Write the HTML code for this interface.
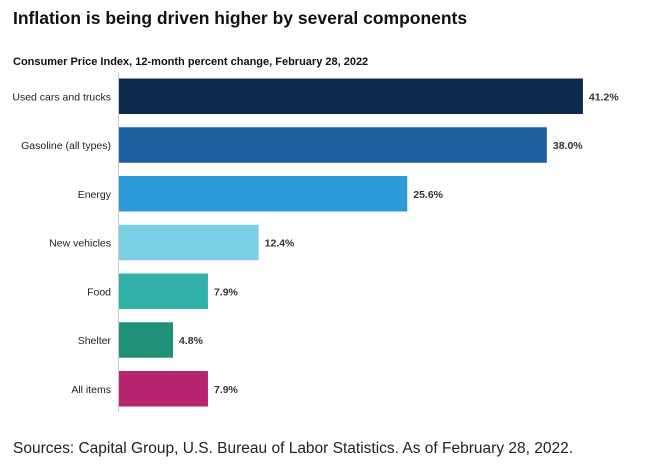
<!DOCTYPE html>
<html><head><meta charset="utf-8"><style>
body{margin:0;background:#fff;width:648px;height:469px;overflow:hidden;font-family:"Liberation Sans",sans-serif}
</style></head><body>
<svg width="648" height="469">
<text x="13" y="24" font-size="17.5" font-weight="bold" fill="#111">Inflation is being driven higher by several components</text>
<text x="13" y="65" font-size="11" font-weight="bold" fill="#111">Consumer Price Index, 12-month percent change, February 28, 2022</text>
<g id="bars"></g>
<line x1="118.5" y1="72" x2="118.5" y2="412" stroke="#ccc" stroke-width="1"/>
<text x="13" y="453" font-size="15.5" fill="#222">Sources: Capital Group, U.S. Bureau of Labor Statistics. As of February 28, 2022.</text>
</svg>
<script>
const categories=["Used cars and trucks","Gasoline (all types)","Energy","New vehicles","Food","Shelter","All items"];
const values=[41.2,38.0,25.6,12.4,7.9,4.8,7.9];
const colors=["#0b2a4e","#1d60a0","#2a9ad9","#7bd0e6","#30b0a6","#22917a","#b6236f"];
const x=v=>119+v*11.26;
const yTop=i=>78.5+i*48.75;
const H=35.5;
const ns="http://www.w3.org/2000/svg";
const g=document.getElementById('bars');
categories.forEach((c,i)=>{
  const r=document.createElementNS(ns,'rect');
  r.setAttribute('x',119);r.setAttribute('y',yTop(i));
  r.setAttribute('width',x(values[i])-119);r.setAttribute('height',H);
  r.setAttribute('fill',colors[i]);
  
  
  g.appendChild(r);
  const l=document.createElementNS(ns,'text');
  l.setAttribute('x',111);l.setAttribute('y',yTop(i)+H/2+4);
  l.setAttribute('text-anchor','end');l.setAttribute('font-size','10.5');l.setAttribute('fill','#222');
  l.textContent=c;
  
  
  g.appendChild(l);
  const v=document.createElementNS(ns,'text');
  v.setAttribute('x',x(values[i])+6);v.setAttribute('y',yTop(i)+H/2+4);
  v.setAttribute('font-size','10.5');v.setAttribute('font-weight','bold');v.setAttribute('fill','#333');
  v.textContent=values[i].toFixed(1)+'%';
  
  
  g.appendChild(v);
});
</script>
</body></html>
